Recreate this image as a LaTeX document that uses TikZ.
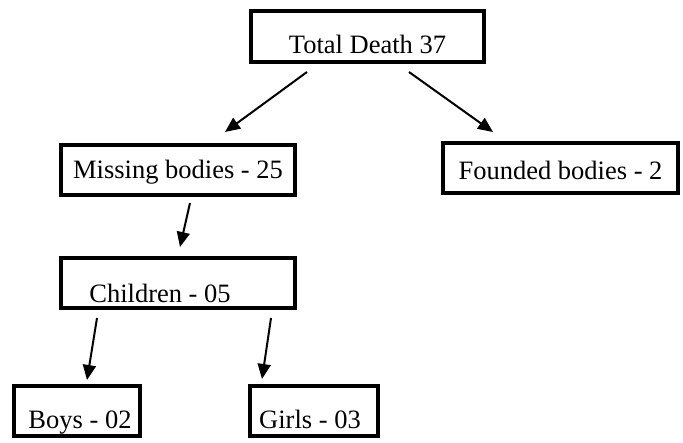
\documentclass[tikz,border=0pt]{standalone}
\usepackage{fontspec}
\setmainfont{Liberation Serif}
\usepackage{tikz}
\usetikzlibrary{positioning,arrows.meta}

\begin{document}
\begin{tikzpicture}[
  x=1pt,y=1pt,
  box/.style={draw,line width=4pt,minimum height=50pt,inner sep=0pt,
              font=\fontsize{26.5}{30}\selectfont,text height=17.5pt,text depth=0pt},
  wide/.style={box,minimum width=234pt},
  small/.style={box,minimum width=127pt},
  ar/.style={-{Triangle[length=15pt,width=13pt]},line width=2pt}
]
\useasboundingbox (0,0) rectangle (683,443);

\node[wide,minimum width=233pt,minimum height=51pt,text height=34.5pt] (total) at (367.5,406.5) {Total Death 37};
\node[wide] (missing) at (178,273) {Missing bodies - 25};
\node[wide,minimum width=235pt,text height=23.5pt] (founded) at (560.5,275) {Founded bodies - 2};
\node[wide,text height=38.5pt] (children) at (178,160) {Children - 05\hspace{36pt}\mbox{}};
\node[small,minimum width=126pt,text height=35.5pt] (boys) at (77,32) {\hspace{6pt}Boys - 02};
\node[small,minimum width=128pt,text height=35.5pt] (girls) at (314,32) {Girls - 03\hspace{8pt}\mbox{}};

\draw[ar] ([xshift=-60.5pt,yshift=-8pt]total.south) -- ([xshift=47pt,yshift=11pt]missing.north);
\draw[ar] ([xshift=41.5pt,yshift=-8pt]total.south) -- ([xshift=-67.5pt,yshift=9pt]founded.north);
\draw[ar] ([xshift=12pt,yshift=-6pt]missing.south) -- ([xshift=2pt,yshift=9pt]children.north);
\draw[ar] ([xshift=-81pt,yshift=-8pt]children.south) -- ([xshift=10pt,yshift=4pt]boys.north);
\draw[ar] ([xshift=93pt,yshift=-8pt]children.south) -- ([xshift=-52pt,yshift=5pt]girls.north);
\end{tikzpicture}
\end{document}
